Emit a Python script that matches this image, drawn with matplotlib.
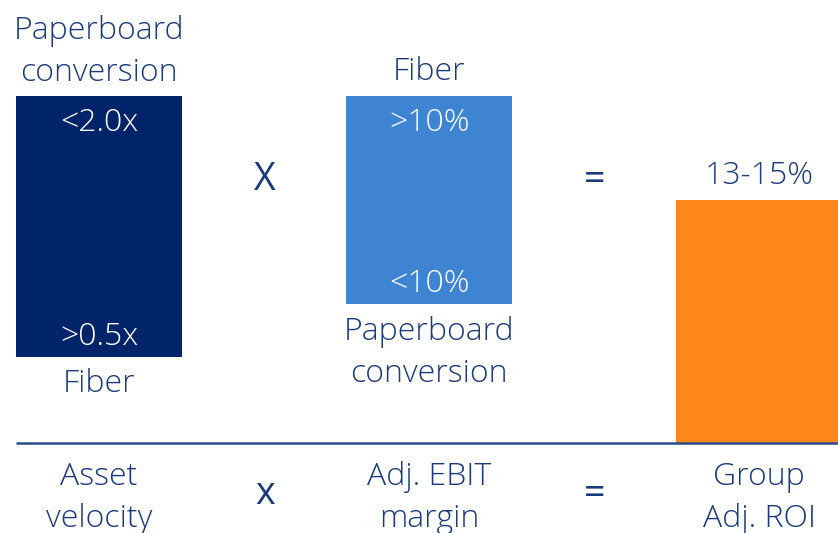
import matplotlib.pyplot as plt

# factors shown as floating bars (arbitrary chart units, baseline = 0)
categories = ["Asset\nvelocity", "Adj. EBIT\nmargin", "Group\nAdj. ROI"]
bar_low = [86, 139, 0]
bar_high = [347, 347, 243]
top_inner = ["<2.0x", ">10%", ""]
bottom_inner = [">0.5x", "<10%", ""]
above_labels = ["Paperboard\nconversion", "Fiber", "13-15%"]
below_labels = ["Fiber", "Paperboard\nconversion", ""]
operators = ["X", "="]
bottom_operators = ["x", "="]

colors = ["#002469", "#3F83D3", "#FF8719"]
text_color = "#1A3A7C"
line_color = "#2B4A8A"

plt.rcParams['font.family'] = ['Open Sans', 'DejaVu Sans']

fig = plt.figure(figsize=(8.38, 5.33), dpi=100)
ax = fig.add_axes([0, 0, 1, 1])
ax.set_xlim(0, 838)
ax.set_ylim(-90, 443)
ax.axis('off')

xpos = [99, 429, 759]
heights = [h - l for h, l in zip(bar_high, bar_low)]
ax.bar(xpos, heights, bottom=bar_low, width=166, color=colors)

ax.plot([16, 838], [0, 0], color=line_color, lw=1.8, solid_capstyle='butt')

fs = 23
ls = 1.38
light = dict(fontweight='light', color=text_color, fontsize=fs, ha='center', va='center')

for i, x in enumerate(xpos):
    if top_inner[i]:
        ax.text(x, bar_high[i] - 27, top_inner[i], **{**light, 'color': 'white'})
    if bottom_inner[i]:
        ax.text(x, bar_low[i] + 20, bottom_inner[i], **{**light, 'color': 'white'})
    if above_labels[i]:
        n = above_labels[i].count("\n")
        ax.text(x, bar_high[i] + 24 + n * 20, above_labels[i], linespacing=ls, **light)
    if below_labels[i]:
        n = below_labels[i].count("\n")
        ax.text(x, bar_low[i] - 27 - n * 22, below_labels[i], linespacing=ls, **light)
    ax.text(x, -55, categories[i], linespacing=ls, **light)

op_x = [265, 595]
for x, op, bop in zip(op_x, operators, bottom_operators):
    ax.text(x, 263, op, color=text_color, fontsize=27, fontweight='medium',
            ha='center', va='center')
    ax.text(x, -51, bop, color=text_color, fontsize=27, fontweight='medium',
            ha='center', va='center')

fig.savefig("out.png", dpi=100)
